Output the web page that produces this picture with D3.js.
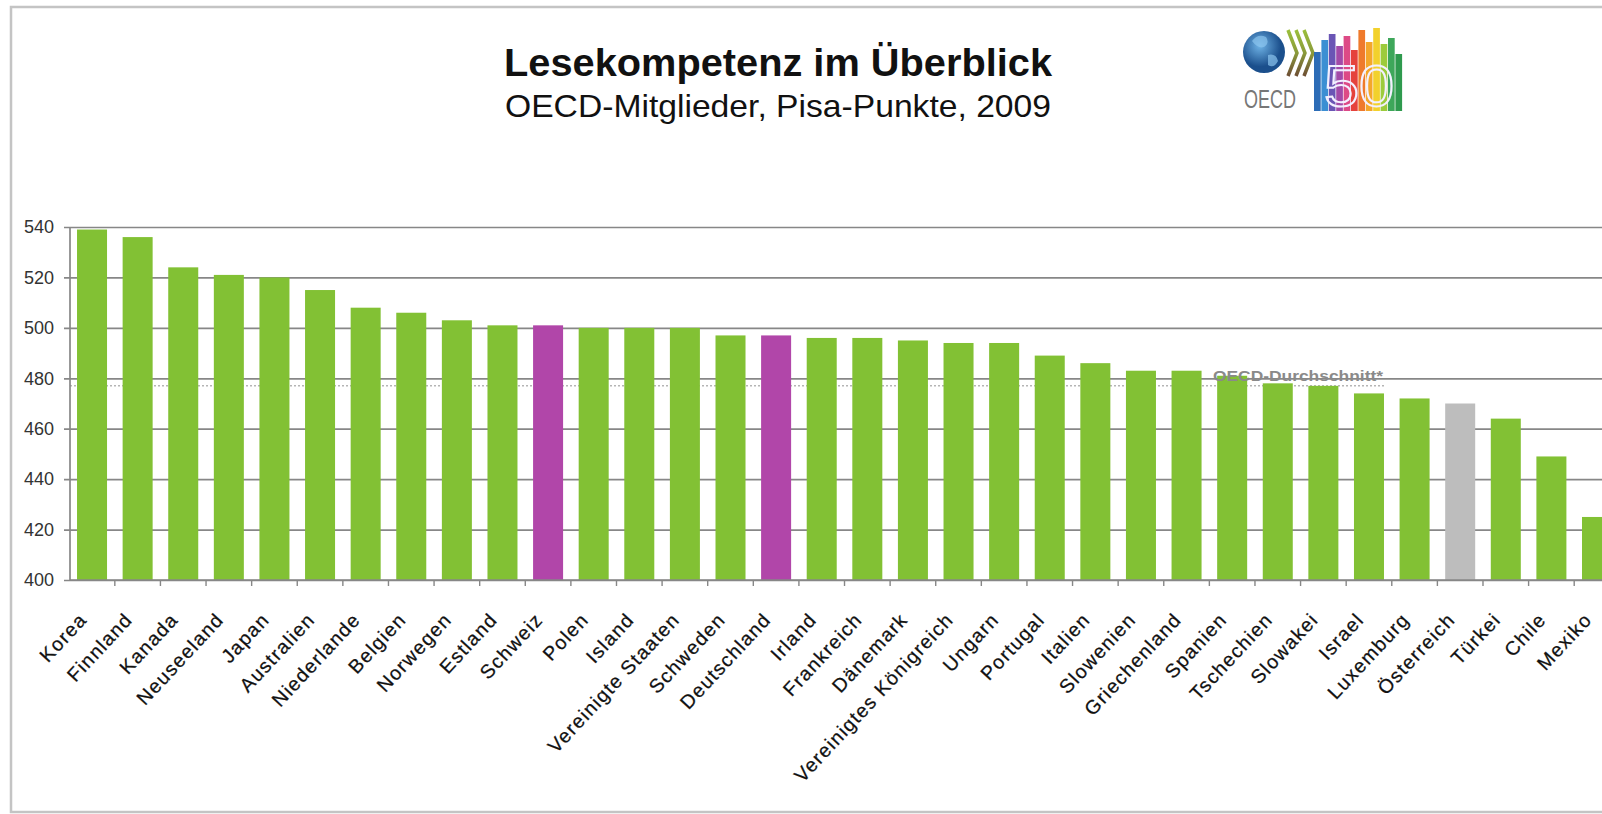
<!DOCTYPE html>
<meta charset="utf-8">
<style>
    body {
        margin: 0;
        background: #fff;
        font-family: "Liberation Sans", Arial, Helvetica, sans-serif;
    }
</style>
<body>
<script src="https://cdn.jsdelivr.net/npm/d3@7"></script>
<script>

// PISA 2009, Lesekompetenz der OECD-Mitglieder
var countries = ["Korea", "Finnland", "Kanada", "Neuseeland", "Japan", "Australien",
    "Niederlande", "Belgien", "Norwegen", "Estland", "Schweiz", "Polen", "Island",
    "Vereinigte Staaten", "Schweden", "Deutschland", "Irland", "Frankreich", "Dänemark",
    "Vereinigtes Königreich", "Ungarn", "Portugal", "Italien", "Slowenien", "Griechenland",
    "Spanien", "Tschechien", "Slowakei", "Israel", "Luxemburg", "Österreich", "Türkei",
    "Chile", "Mexiko"];
var scores = [539, 536, 524, 521, 520, 515, 508, 506, 503, 501, 501, 500, 500, 500,
    497, 497, 496, 496, 495, 494, 494, 489, 486, 483, 483, 481, 478, 477, 474, 472,
    470, 464, 449, 425];
var groups = ["oecd", "oecd", "oecd", "oecd", "oecd", "oecd", "oecd", "oecd", "oecd",
    "oecd", "dach", "oecd", "oecd", "oecd", "oecd", "dach", "oecd", "oecd", "oecd",
    "oecd", "oecd", "oecd", "oecd", "oecd", "oecd", "oecd", "oecd", "oecd", "oecd",
    "oecd", "grau", "oecd", "oecd", "oecd"];
var yTicks = [400, 420, 440, 460, 480, 500, 520, 540];
var oecdMittel = 477;
var titel = "Lesekompetenz im Überblick";
var untertitel = "OECD-Mitglieder, Pisa-Punkte, 2009";

var data = countries.map(function(c, i) {
    return {land: c, wert: scores[i], gruppe: groups[i]};
});

var W = 1602, H = 814;
var svg = d3.select("body").append("svg")
    .attr("width", W)
    .attr("height", H);

// rahmen (rechts abgeschnitten)
svg.append("rect")
    .attr("x", 11).attr("y", 7)
    .attr("width", W + 20).attr("height", 805)
    .attr("fill", "none")
    .attr("stroke", "#c4c4c4")
    .attr("stroke-width", 2.5);

var left = 70, axisY = 580, topY = 227;

var x = d3.scaleBand()
    .domain(countries)
    .range([left, left + 45.6 * 33.97])
    .paddingInner(0.342)
    .paddingOuter(0.154);

var y = d3.scaleLinear()
    .domain([400, 540])
    .range([axisY, topY]);

var color = d3.scaleOrdinal()
    .domain(["oecd", "dach", "grau"])
    .range(["#82c134", "#b146a9", "#bdbdbd"]);

// gitternetz
svg.append("g")
    .attr("transform", "translate(" + left + ",0)")
    .call(d3.axisLeft(y).tickValues(yTicks).tickSize(-(W - left)).tickSizeOuter(0).tickPadding(16))
    .call(function(g) {
        g.select(".domain").remove();
        g.selectAll(".tick line").attr("stroke", "#878787").attr("stroke-width", 1.7)
            .attr("x1", -6);
        g.selectAll(".tick text")
            .attr("fill", "#333")
            .style("font-size", "18px")
            .style("font-family", "'Liberation Sans', Arial, sans-serif");
    });

// OECD-Durchschnitt (gepunktet)
svg.append("line")
    .attr("x1", left).attr("x2", 1385)
    .attr("y1", y(oecdMittel)).attr("y2", y(oecdMittel))
    .attr("stroke", "#b5b5b5")
    .attr("stroke-width", 1.5)
    .attr("stroke-dasharray", "2,2");

svg.selectAll("rect.bar")
    .data(data)
  .enter().append("rect")
    .attr("class", "bar")
    .attr("x", function(d) { return x(d.land); })
    .attr("y", function(d) { return y(d.wert); })
    .attr("width", x.bandwidth())
    .attr("height", function(d) { return axisY - y(d.wert); })
    .attr("fill", function(d) { return color(d.gruppe); });

// achsen
svg.append("line")
    .attr("x1", left).attr("x2", left)
    .attr("y1", topY).attr("y2", axisY)
    .attr("stroke", "#878787").attr("stroke-width", 1.7);
svg.append("line")
    .attr("x1", left).attr("x2", W)
    .attr("y1", axisY).attr("y2", axisY)
    .attr("stroke", "#878787").attr("stroke-width", 1.7);

var step = x.step();
svg.selectAll("line.xtick")
    .data(countries)
  .enter().append("line")
    .attr("class", "xtick")
    .attr("x1", function(d) { return x(d) + x.bandwidth() + (step - x.bandwidth()) / 2; })
    .attr("x2", function(d) { return x(d) + x.bandwidth() + (step - x.bandwidth()) / 2; })
    .attr("y1", axisY).attr("y2", axisY + 6)
    .attr("stroke", "#878787").attr("stroke-width", 1.4);

svg.selectAll("text.xlab")
    .data(data)
  .enter().append("text")
    .attr("class", "xlab")
    .attr("transform", function(d) {
        return "translate(" + (x(d.land) + x.bandwidth() / 2 - 9) + "," + (axisY + 36) + ") rotate(-47)";
    })
    .attr("text-anchor", "end")
    .attr("dy", "0.35em")
    .attr("fill", "#111")
    .attr("stroke", "#111")
    .attr("stroke-width", 0.25)
    .style("font-size", "19.5px")
    .style("letter-spacing", "1.3px")
    .text(function(d) { return d.land; });

svg.append("text")
    .attr("x", 1213).attr("y", y(oecdMittel) - 5)
    .attr("fill", "#8a8a8a")
    .attr("font-weight", "bold")
    .style("font-size", "15px")
    .attr("textLength", 170)
    .attr("lengthAdjust", "spacingAndGlyphs")
    .text("OECD-Durchschnitt*");

// titel
svg.append("text")
    .attr("x", 778).attr("y", 76)
    .attr("text-anchor", "middle")
    .attr("font-weight", "bold")
    .attr("fill", "#111")
    .style("font-size", "38px")
    .attr("textLength", 548)
    .attr("lengthAdjust", "spacingAndGlyphs")
    .text(titel);
svg.append("text")
    .attr("x", 778).attr("y", 117)
    .attr("text-anchor", "middle")
    .attr("fill", "#111")
    .style("font-size", "32px")
    .attr("textLength", 546)
    .attr("lengthAdjust", "spacingAndGlyphs")
    .text(untertitel);

// OECD 50 logo
var defs = svg.append("defs");
var rg = defs.append("radialGradient").attr("id", "globus").attr("cx", "40%").attr("cy", "35%");
rg.append("stop").attr("offset", "0%").attr("stop-color", "#6fb3e6");
rg.append("stop").attr("offset", "100%").attr("stop-color", "#1b4f8c");
var lg = defs.append("linearGradient").attr("id", "pfeil").attr("x1", 0).attr("x2", 0).attr("y1", 0).attr("y2", 1);
lg.append("stop").attr("offset", "0%").attr("stop-color", "#9bbf3c");
lg.append("stop").attr("offset", "50%").attr("stop-color", "#8a9a3a");
lg.append("stop").attr("offset", "100%").attr("stop-color", "#6e4e34");

var logo = svg.append("g");
logo.append("circle").attr("cx", 1264).attr("cy", 52).attr("r", 21).attr("fill", "url(#globus)");
logo.append("path")
    .attr("d", "M1252,41 q6,-8 14,-4 q4,6 -2,10 q-6,2 -12,-6 Z M1268,55 q8,-2 10,6 q-4,8 -10,4 Z")
    .attr("fill", "#8cc4ee").attr("opacity", 0.7);
[1288, 1296, 1304].forEach(function(px) {
    logo.append("polyline")
        .attr("points", px + ",30 " + (px + 9) + ",53 " + px + ",76")
        .attr("fill", "none")
        .attr("stroke", "url(#pfeil)")
        .attr("stroke-width", 3.5);
});
logo.append("text")
    .attr("x", 1244).attr("y", 108)
    .attr("fill", "#777")
    .style("font-size", "26px")
    .attr("textLength", 52)
    .attr("lengthAdjust", "spacingAndGlyphs")
    .text("OECD");

var logoFarben = ["#2c6cb6", "#3b8fd3", "#6a55b5", "#a24aa8", "#dd4a86", "#e5423c",
    "#ef7a2c", "#f4a72a", "#f2d12c", "#9ccb3c", "#3ea75a", "#2f9a4e"];
var logoTops = [52, 40, 34, 46, 36, 50, 30, 42, 28, 44, 38, 54];
logoFarben.forEach(function(f, i) {
    logo.append("rect")
        .attr("x", 1314 + i * 7.4).attr("y", logoTops[i])
        .attr("width", 6.7).attr("height", 111 - logoTops[i])
        .attr("fill", f);
});
logo.append("text")
    .attr("x", 1359).attr("y", 106)
    .attr("text-anchor", "middle")
    .attr("fill", "none")
    .attr("stroke", "#f3f0ff")
    .attr("stroke-width", 2)
    .style("font-size", "58px")
    .attr("textLength", 70)
    .attr("lengthAdjust", "spacingAndGlyphs")
    .text("50");

</script>
</body>
